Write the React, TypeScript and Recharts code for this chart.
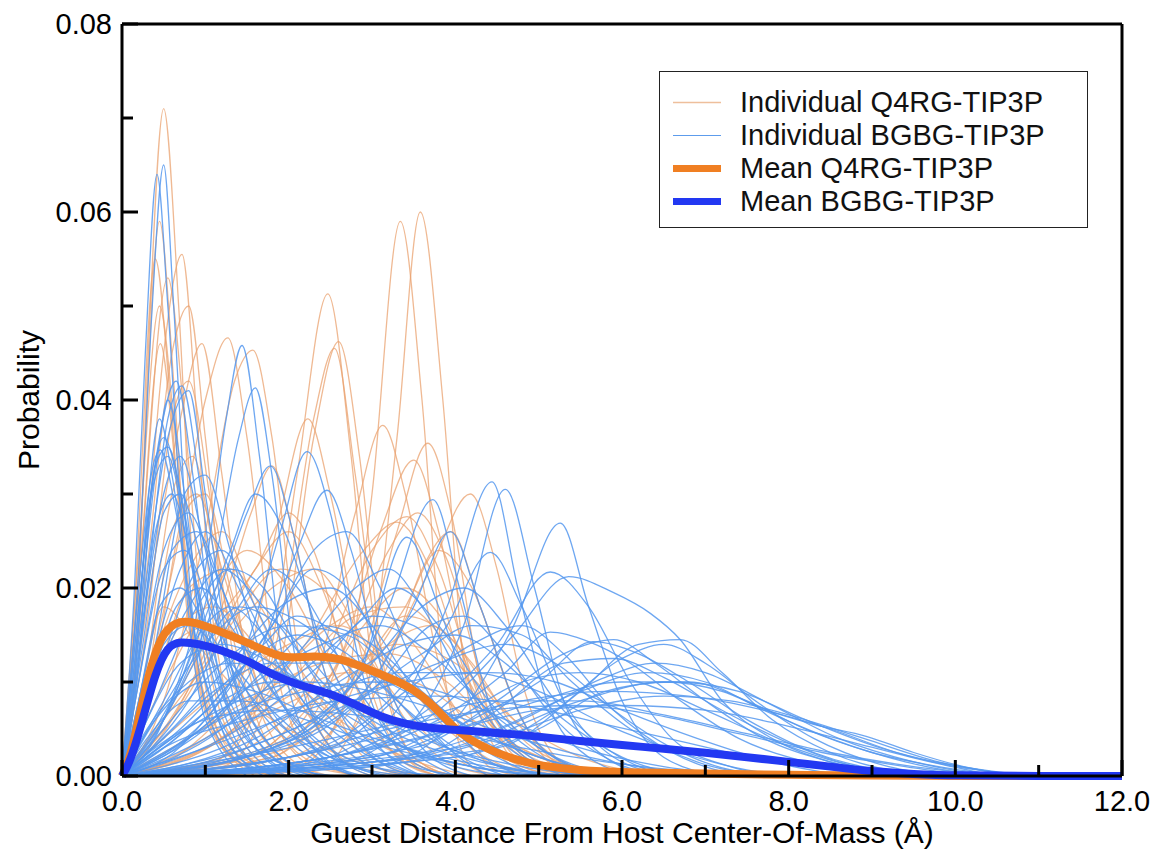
import React from "react";
import { LineChart, Line, XAxis, YAxis, Legend } from "recharts";

// each curve: [distance (Å), probability x 1000]
type Pt = [number, number];

const q4rgIndividual: Pt[][] = [
  [[0, 0], [0.15, 10], [0.3, 42], [0.5, 71], [0.68, 50], [0.85, 22], [1.1, 6], [1.5, 1], [2, 0]],
  [[0, 0], [0.2, 22], [0.45, 59], [0.62, 42], [0.8, 18], [1.1, 5], [1.6, 0]],
  [[0, 0], [0.15, 18], [0.4, 55], [0.58, 40], [0.8, 16], [1.2, 3], [1.8, 0]],
  [[0, 0], [0.25, 20], [0.5, 45], [0.72, 55.5], [0.9, 38], [1.1, 16], [1.5, 3], [2, 0]],
  [[0, 0], [0.2, 20], [0.55, 53], [0.75, 38], [1.0, 14], [1.4, 3], [2, 0]],
  [[0, 0], [0.2, 24], [0.45, 50], [0.65, 35], [0.9, 12], [1.3, 2], [2, 0]],
  [[0, 0], [0.3, 22], [0.6, 45], [0.8, 50], [1.0, 36], [1.3, 12], [1.8, 2], [2.4, 0]],
  [[0, 0], [0.3, 10], [0.7, 26], [1.0, 40], [1.27, 46.6], [1.5, 36], [1.8, 14], [2.2, 3], [2.8, 0]],
  [[0, 0], [0.5, 8], [1.0, 26], [1.35, 42], [1.57, 45.3], [1.8, 36], [2.1, 14], [2.5, 3], [3, 0]],
  [[0, 0], [1.0, 1], [1.7, 10], [2.1, 32], [2.47, 51.3], [2.75, 34], [3.0, 12], [3.4, 2], [3.8, 0]],
  [[0, 0], [1.2, 1], [1.9, 12], [2.3, 36], [2.6, 46.2], [2.85, 34], [3.1, 14], [3.5, 2], [4, 0]],
  [[0, 0], [1.2, 2], [1.9, 16], [2.3, 38], [2.55, 45.5], [2.8, 32], [3.1, 12], [3.5, 2], [4, 0]],
  [[0, 0], [2, 0.5], [2.6, 6], [3.0, 30], [3.34, 59], [3.6, 40], [3.85, 12], [4.2, 1], [4.6, 0]],
  [[0, 0], [2.3, 0.5], [2.9, 8], [3.3, 36], [3.58, 60], [3.85, 40], [4.1, 12], [4.4, 1], [4.8, 0]],
  [[0, 0], [0.8, 3], [1.5, 12], [1.9, 28], [2.23, 38], [2.5, 30], [2.9, 12], [3.4, 2], [4, 0]],
  [[0, 0], [1.5, 2], [2.3, 10], [2.8, 28], [3.13, 37.3], [3.4, 30], [3.8, 12], [4.3, 2], [5, 0]],
  [[0, 0], [2, 1], [2.8, 10], [3.3, 26], [3.67, 35.4], [3.95, 28], [4.3, 10], [4.8, 1], [5.3, 0]],
  [[0, 0], [1.8, 2], [2.6, 12], [3.1, 26], [3.5, 33.6], [3.8, 26], [4.2, 9], [4.7, 1], [5.2, 0]],
  [[0, 0], [1.5, 3], [2.4, 12], [3.0, 24], [3.42, 27.6], [3.8, 22], [4.3, 8], [4.9, 1], [5.5, 0]],
  [[0, 0], [1.2, 4], [2.2, 14], [2.9, 24], [3.3, 27], [3.7, 22], [4.2, 9], [4.8, 2], [5.5, 0]],
  [[0, 0], [1.8, 3], [2.7, 14], [3.2, 24], [3.55, 28], [3.9, 23], [4.4, 8], [5, 1], [5.5, 0]],
  [[0, 0], [2, 2], [3, 10], [3.7, 22], [4.18, 30], [4.5, 22], [4.8, 10], [5.2, 2], [5.6, 0]],
  [[0, 0], [0.2, 20], [0.46, 46], [0.65, 32], [0.9, 12], [1.3, 3], [2, 0]],
  [[0, 0], [0.3, 18], [0.7, 38], [0.96, 46], [1.2, 32], [1.5, 12], [2, 2], [2.5, 0]],
  [[0, 0], [0.3, 16], [0.6, 38], [0.8, 42], [1.05, 30], [1.4, 10], [1.9, 2], [2.4, 0]],
  [[0, 0], [0.5, 6], [1.2, 14], [1.8, 20], [2.3, 22], [2.8, 16], [3.4, 6], [4, 1], [4.6, 0]],
  [[0, 0], [0.4, 8], [1, 18], [1.5, 24], [2.0, 20], [2.6, 10], [3.2, 3], [4, 0]],
  [[0, 0], [0.3, 10], [0.8, 22], [1.2, 26], [1.6, 18], [2.2, 7], [2.8, 1], [3.5, 0]],
  [[0, 0], [1, 3], [2, 10], [2.8, 17], [3.4, 18], [3.9, 14], [4.5, 5], [5.2, 1], [6, 0]],
  [[0, 0], [0.6, 3], [1.5, 8], [2.4, 12], [3.2, 13], [3.9, 10], [4.6, 4], [5.4, 1], [6.2, 0]],
  [[0, 0], [0.3, 12], [0.6, 30], [0.85, 34], [1.1, 24], [1.5, 9], [2, 1], [2.5, 0]],
  [[0, 0], [0.5, 6], [1.1, 16], [1.6, 22], [2.0, 28], [2.3, 24], [2.7, 12], [3.2, 3], [3.8, 0]],
  [[0, 0], [0.2, 8], [0.5, 18], [0.9, 14], [1.5, 8], [2.2, 4], [3, 1], [3.8, 0]],
  [[0, 0], [0.8, 2], [1.6, 6], [2.5, 10], [3.3, 14], [4.0, 12], [4.7, 6], [5.5, 2], [6.5, 0]],
  [[0, 0], [0.4, 12], [0.75, 28], [1.0, 30], [1.3, 20], [1.8, 6], [2.4, 1], [3, 0]],
  [[0, 0], [0.6, 6], [1.2, 18], [1.55, 28], [1.8, 33], [2.05, 26], [2.4, 12], [2.9, 2], [3.4, 0]],
  [[0, 0], [0.5, 5], [1.1, 14], [1.6, 22], [2.0, 26], [2.4, 20], [2.8, 10], [3.3, 2], [3.8, 0]],
  [[0, 0], [0.3, 10], [0.6, 26], [0.9, 30], [1.2, 22], [1.7, 8], [2.3, 1], [3, 0]],
  [[0, 0], [1.5, 2], [2.3, 8], [2.9, 16], [3.4, 20], [3.9, 16], [4.4, 7], [5, 1], [5.6, 0]],
  [[0, 0], [1, 4], [1.8, 10], [2.5, 16], [3.0, 18], [3.5, 14], [4.1, 6], [4.8, 1], [5.4, 0]],
  [[0, 0], [0.5, 4], [1.3, 10], [2.0, 14], [2.6, 16], [3.2, 12], [3.9, 5], [4.6, 1], [5.2, 0]],
  [[0, 0], [2, 3], [2.8, 10], [3.4, 18], [3.8, 24], [4.2, 20], [4.7, 8], [5.2, 1], [5.8, 0]],
  [[0, 0], [0.4, 10], [0.8, 20], [1.3, 22], [1.8, 16], [2.4, 8], [3, 2], [3.6, 0]],
  [[0, 0], [1.8, 2], [2.6, 8], [3.2, 14], [3.7, 16], [4.2, 12], [4.8, 4], [5.4, 1], [6, 0]],
  [[0, 0], [0.2, 6], [0.6, 14], [1.1, 16], [1.8, 12], [2.6, 6], [3.4, 2], [4.2, 0]],
  [[0, 0], [1, 3], [1.9, 8], [2.7, 11], [3.5, 10], [4.2, 6], [5, 2], [5.8, 0]],
  [[0, 0], [2.5, 3], [3.2, 12], [3.6, 22], [3.95, 26], [4.3, 18], [4.8, 6], [5.3, 1], [5.8, 0]],
  [[0, 0], [0.6, 6], [1.3, 16], [1.9, 22], [2.4, 20], [3, 12], [3.7, 4], [4.4, 0]],
  [[0, 0], [0.3, 8], [0.7, 16], [1.1, 18], [1.6, 14], [2.3, 6], [3, 1], [3.6, 0]],
  [[0, 0], [2, 4], [2.9, 12], [3.4, 17], [3.9, 15], [4.5, 8], [5.2, 2], [5.9, 0]],
];

const bgbgIndividual: Pt[][] = [
  [[0, 0], [0.2, 22], [0.35, 48], [0.5, 65], [0.62, 50], [0.8, 22], [1.05, 6], [1.5, 1], [2, 0]],
  [[0, 0], [0.15, 20], [0.28, 45], [0.42, 64], [0.55, 50], [0.75, 22], [1.0, 6], [1.5, 0]],
  [[0, 0], [0.5, 6], [1.0, 22], [1.25, 38], [1.44, 45.8], [1.65, 34], [1.9, 14], [2.3, 3], [2.8, 0]],
  [[0, 0], [0.5, 6], [1.1, 22], [1.4, 36], [1.6, 41.3], [1.8, 32], [2.05, 14], [2.5, 3], [3, 0]],
  [[0, 0], [0.2, 18], [0.45, 36], [0.65, 42], [0.85, 32], [1.1, 14], [1.5, 3], [2, 0]],
  [[0, 0], [0.25, 18], [0.55, 36], [0.8, 41], [1.0, 30], [1.3, 12], [1.8, 2], [2.3, 0]],
  [[0, 0], [0.2, 16], [0.4, 32], [0.55, 40], [0.75, 30], [1.0, 12], [1.4, 2], [1.9, 0]],
  [[0, 0], [0.3, 20], [0.55, 38], [0.72, 41.5], [0.92, 32], [1.2, 14], [1.6, 3], [2.1, 0]],
  [[0, 0], [0.2, 20], [0.35, 32], [0.46, 34.7], [0.65, 28], [0.9, 14], [1.3, 4], [1.9, 0]],
  [[0, 0], [0.2, 18], [0.4, 33], [0.55, 35], [0.75, 28], [1.0, 15], [1.4, 5], [2, 1], [2.6, 0]],
  [[0, 0], [0.25, 16], [0.5, 30], [0.7, 34], [0.95, 26], [1.3, 12], [1.8, 3], [2.4, 0]],
  [[0, 0], [0.5, 6], [1.1, 18], [1.5, 28], [1.78, 33], [2.05, 26], [2.4, 12], [2.9, 3], [3.5, 0]],
  [[0, 0], [0.8, 4], [1.5, 14], [1.9, 26], [2.22, 34.5], [2.5, 28], [2.85, 12], [3.3, 3], [3.9, 0]],
  [[0, 0], [0.8, 4], [1.6, 12], [2.1, 24], [2.46, 30.4], [2.75, 24], [3.1, 12], [3.6, 3], [4.2, 0]],
  [[0, 0], [1.5, 2], [2.6, 8], [3.2, 18], [3.73, 29.4], [4.05, 20], [4.4, 8], [4.9, 2], [5.5, 0]],
  [[0, 0], [2, 1], [3.2, 6], [3.9, 18], [4.44, 31.3], [4.75, 20], [5.1, 8], [5.6, 2], [6.2, 0]],
  [[0, 0], [2.4, 1], [3.5, 6], [4.1, 16], [4.6, 30.5], [4.95, 20], [5.3, 8], [5.8, 2], [6.4, 0]],
  [[0, 0], [3, 1], [4, 6], [4.7, 16], [5.26, 26.9], [5.6, 18], [6.0, 8], [6.5, 2], [7.2, 0]],
  [[0, 0], [2.5, 2], [3.8, 7], [4.7, 15], [5.36, 21.2], [5.9, 19.5], [6.34, 17.3], [6.7, 14.5], [7.2, 8], [7.8, 4], [8.5, 1.5], [9.3, 0]],
  [[0, 0], [2.5, 2], [3.5, 6], [4.5, 14], [5.14, 21.7], [5.6, 18], [6.1, 10], [6.6, 4], [7.3, 1], [8, 0]],
  [[0, 0], [1.5, 3], [2.8, 10], [3.42, 25.4], [3.8, 18], [4.2, 8], [4.8, 2], [5.5, 0]],
  [[0, 0], [1.8, 3], [3.0, 10], [3.5, 18], [3.94, 26], [4.3, 18], [4.8, 6], [5.4, 1], [6, 0]],
  [[0, 0], [2, 2], [3.2, 8], [3.9, 16], [4.42, 23.8], [4.8, 18], [5.3, 8], [5.9, 2], [6.6, 0]],
  [[0, 0], [2.5, 2], [3.8, 6], [4.6, 11], [5.14, 15.3], [5.6, 14.3], [6.1, 12], [6.7, 8], [7.4, 4], [8.2, 1.5], [9, 0]],
  [[0, 0], [3, 2], [4.2, 6], [5, 10], [5.65, 14.3], [6.2, 13], [6.8, 10], [7.5, 6], [8.3, 2.5], [9.2, 0.5], [10, 0]],
  [[0, 0], [2.5, 2], [4, 5], [5, 8], [6, 10], [6.8, 10], [7.5, 8], [8.2, 5], [9, 2.5], [9.8, 1], [10.6, 0]],
  [[0, 0], [3, 1.5], [4.5, 5], [5.5, 9], [6.3, 11], [7, 10], [7.7, 7], [8.5, 4], [9.4, 1.5], [10.3, 0]],
  [[0, 0], [2, 2], [3.5, 5], [4.8, 8], [5.8, 9], [6.8, 8.5], [7.7, 7], [8.5, 5], [9.3, 2.5], [10.2, 0.8], [11, 0]],
  [[0, 0], [3, 1], [4.5, 4], [5.5, 7], [6.5, 8.5], [7.3, 8], [8, 6.5], [8.9, 4], [9.8, 1.5], [10.8, 0]],
  [[0, 0], [2.5, 2], [4, 5], [5, 7], [6, 7.5], [7, 7], [7.9, 5.5], [8.8, 3.5], [9.7, 1.5], [10.5, 0]],
  [[0, 0], [3.5, 2], [4.8, 6], [5.8, 10.5], [6.4, 12], [7, 11], [7.7, 8], [8.6, 4], [9.5, 1.5], [10.4, 0]],
  [[0, 0], [4, 2], [5.2, 7], [6, 12.5], [6.5, 14], [7, 12], [7.6, 8], [8.3, 4], [9.2, 1], [10, 0]],
  [[0, 0], [4, 2], [5, 5], [5.8, 9], [6.6, 10], [7.4, 9], [8.2, 6], [9.1, 3], [10, 1], [11, 0]],
  [[0, 0], [2, 3], [3.5, 6], [4.5, 8], [5.5, 8], [6.5, 6.5], [7.5, 4.5], [8.5, 2.5], [9.5, 1], [10.5, 0]],
  [[0, 0], [4, 3], [5.5, 8], [6.5, 10], [7.2, 9], [7.74, 7], [8.3, 5.5], [8.94, 4.2], [9.5, 2.5], [10.1, 1], [10.8, 0]],
  [[0, 0], [4.5, 3], [5.5, 9], [6.2, 14], [6.7, 14.5], [7.2, 11], [7.8, 6], [8.5, 2.5], [9.3, 0.5], [10, 0]],
  [[0, 0], [3.5, 3], [4.5, 8], [5.3, 13], [5.9, 14.5], [6.4, 12], [7, 8], [7.7, 4], [8.5, 1.5], [9.3, 0]],
  [[0, 0], [0.2, 10], [0.5, 24], [0.8, 28], [1.1, 22], [1.6, 12], [2.2, 5], [3, 1], [4, 0]],
  [[0, 0], [0.3, 10], [0.7, 22], [1.0, 26], [1.4, 20], [2, 10], [2.8, 3], [3.6, 0]],
  [[0, 0], [0.3, 8], [0.8, 18], [1.2, 22], [1.7, 18], [2.4, 10], [3.2, 4], [4.2, 1], [5, 0]],
  [[0, 0], [0.4, 6], [1.0, 14], [1.6, 18], [2.2, 16], [2.9, 10], [3.7, 4], [4.6, 1], [5.5, 0]],
  [[0, 0], [0.5, 5], [1.2, 12], [2.0, 16], [2.7, 15], [3.4, 10], [4.2, 5], [5, 2], [6, 0]],
  [[0, 0], [0.2, 12], [0.4, 26], [0.6, 30], [0.85, 22], [1.2, 10], [1.7, 3], [2.3, 0]],
  [[0, 0], [0.3, 12], [0.6, 24], [0.9, 26], [1.2, 20], [1.6, 10], [2.2, 3], [2.9, 0]],
  [[0, 0], [0.4, 8], [0.9, 18], [1.3, 22], [1.7, 20], [2.2, 12], [2.8, 5], [3.5, 1], [4.2, 0]],
  [[0, 0], [0.6, 5], [1.3, 12], [1.9, 18], [2.5, 20], [3.0, 16], [3.6, 8], [4.3, 3], [5, 0]],
  [[0, 0], [0.8, 4], [1.6, 10], [2.4, 14], [3.1, 16], [3.7, 13], [4.4, 7], [5.2, 2], [6, 0]],
  [[0, 0], [1, 4], [2, 10], [2.8, 16], [3.3, 20], [3.8, 16], [4.4, 8], [5, 3], [5.8, 0]],
  [[0, 0], [0.2, 8], [0.45, 18], [0.7, 20], [1.0, 16], [1.5, 9], [2.1, 4], [2.8, 1], [3.5, 0]],
  [[0, 0], [0.5, 4], [1.1, 9], [1.8, 12], [2.6, 12], [3.4, 9], [4.2, 5], [5, 2], [6, 0]],
  [[0, 0], [0.6, 3], [1.4, 7], [2.2, 9], [3.0, 10], [3.8, 9], [4.6, 6], [5.5, 3], [6.5, 1], [7.5, 0]],
  [[0, 0], [0.3, 6], [0.7, 12], [1.2, 14], [1.8, 12], [2.6, 7], [3.4, 3], [4.2, 1], [5, 0]],
  [[0, 0], [0.9, 6], [1.8, 16], [2.3, 24], [2.7, 26], [3.1, 20], [3.6, 10], [4.2, 3], [4.8, 0]],
  [[0, 0], [1.2, 5], [2.2, 14], [2.8, 20], [3.2, 22], [3.6, 18], [4.1, 10], [4.7, 3], [5.3, 0]],
  [[0, 0], [0.4, 14], [0.75, 30], [1.0, 32], [1.3, 24], [1.7, 12], [2.2, 4], [2.8, 0]],
  [[0, 0], [0.7, 10], [1.3, 24], [1.6, 30], [1.95, 26], [2.4, 14], [3, 4], [3.6, 0]],
  [[0, 0], [1, 6], [1.8, 16], [2.3, 22], [2.7, 20], [3.2, 12], [3.8, 4], [4.4, 0]],
  [[0, 0], [0.15, 10], [0.3, 28], [0.45, 38], [0.6, 32], [0.85, 16], [1.2, 5], [1.7, 0]],
  [[0, 0], [0.2, 12], [0.35, 30], [0.5, 36], [0.7, 30], [0.95, 16], [1.3, 5], [1.8, 0]],
  [[0, 0], [1.5, 3], [2.8, 8], [3.8, 12], [4.6, 14], [5.2, 12], [5.9, 7], [6.6, 3], [7.4, 0.5], [8.2, 0]],
  [[0, 0], [1, 3], [2.2, 7], [3.4, 10], [4.4, 11], [5.2, 10], [6, 7], [6.9, 4], [7.8, 1.5], [8.7, 0]],
  [[0, 0], [0.5, 3], [1.5, 6], [2.6, 8], [3.8, 8.5], [4.8, 7.5], [5.8, 5.5], [6.8, 3.5], [7.8, 1.5], [8.8, 0.5], [9.6, 0]],
  [[0, 0], [0.4, 6], [1, 10], [1.6, 9], [2.4, 6], [3.4, 3], [4.4, 1], [5.4, 0]],
  [[0, 0], [0.3, 4], [0.8, 8], [1.4, 8], [2.2, 6], [3.2, 3], [4.2, 1], [5.2, 0]],
  [[0, 0], [2.0, 4], [3.0, 12], [3.6, 18], [4.1, 20], [4.6, 16], [5.2, 8], [5.8, 3], [6.5, 0]],
  [[0, 0], [0.15, 12], [0.35, 30], [0.55, 34], [0.8, 24], [1.1, 12], [1.6, 3], [2.2, 0]],
  [[0, 0], [0.2, 10], [0.5, 22], [0.75, 24], [1.05, 18], [1.5, 9], [2.1, 3], [2.8, 0]],
  [[0, 0], [0.5, 6], [1.0, 14], [1.4, 18], [1.9, 16], [2.5, 10], [3.2, 4], [4, 1], [4.8, 0]],
  [[0, 0], [0.3, 5], [0.8, 10], [1.3, 12], [1.9, 11], [2.6, 8], [3.4, 4], [4.3, 1.5], [5.2, 0]],
  [[0, 0], [0.6, 4], [1.4, 8], [2.2, 10], [3.0, 9], [3.8, 7], [4.6, 4.5], [5.6, 2], [6.6, 0.5], [7.5, 0]],
  [[0, 0], [1, 5], [1.8, 12], [2.4, 16], [3.0, 14], [3.6, 9], [4.3, 4], [5, 1], [5.8, 0]],
  [[0, 0], [1.4, 5], [2.4, 12], [3.0, 17], [3.5, 16], [4.0, 11], [4.6, 5], [5.3, 1], [6, 0]],
  [[0, 0], [0.2, 6], [0.5, 14], [0.8, 16], [1.2, 13], [1.8, 7], [2.5, 2], [3.2, 0]],
  [[0, 0], [0.8, 8], [1.4, 18], [1.8, 22], [2.2, 19], [2.7, 11], [3.3, 4], [4, 0]],
  [[0, 0], [1.6, 4], [2.6, 10], [3.4, 14], [4.0, 15], [4.6, 12], [5.3, 6], [6, 2], [6.8, 0]],
  [[0, 0], [0.4, 3], [1.0, 6], [1.8, 7], [2.8, 6.5], [3.8, 5], [4.8, 3], [5.8, 1.5], [6.8, 0.5], [7.8, 0]],
  [[0, 0], [0.5, 8], [1.0, 16], [1.3, 18], [1.7, 15], [2.2, 9], [2.9, 3], [3.6, 0]],
  [[0, 0], [2.5, 3], [3.4, 9], [4.2, 14], [4.8, 16], [5.3, 13], [5.9, 7], [6.6, 2.5], [7.4, 0]],
  [[0, 0], [3, 2], [4, 6], [4.8, 10], [5.5, 11], [6.2, 10], [7, 7], [7.9, 3.5], [8.8, 1], [9.6, 0]],
  [[0, 0], [2, 2], [3.2, 5], [4.4, 7], [5.4, 7.5], [6.4, 6.5], [7.4, 4.5], [8.4, 2.5], [9.4, 1], [10.2, 0]],
  [[0, 0], [0.3, 8], [0.65, 18], [0.95, 20], [1.3, 16], [1.8, 9], [2.4, 3], [3.1, 0]],
  [[0, 0], [0.7, 5], [1.5, 12], [2.1, 15], [2.7, 13], [3.3, 8], [4, 3], [4.8, 0.5], [5.5, 0]],
  [[0, 0], [1.2, 3], [2.3, 8], [3.3, 11], [4.2, 11], [5, 9], [5.8, 5.5], [6.7, 2.5], [7.6, 0.5], [8.4, 0]],
  [[0, 0], [0.25, 14], [0.5, 28], [0.7, 30], [0.95, 23], [1.3, 11], [1.8, 3], [2.4, 0]],
  [[0, 0], [0.4, 10], [0.9, 22], [1.2, 24], [1.6, 18], [2.1, 9], [2.8, 2], [3.5, 0]],
  [[0, 0], [3.5, 2], [4.5, 7], [5.3, 12], [5.9, 12.5], [6.5, 10.5], [7.2, 7], [8, 3.5], [8.8, 1], [9.6, 0]],
  [[0, 0], [1.8, 3], [2.8, 8], [3.6, 13], [4.2, 16], [4.8, 15], [5.4, 10], [6.1, 5], [6.9, 1.5], [7.7, 0]],
  [[0, 0], [0.6, 4], [1.2, 8], [1.8, 10], [2.4, 9], [3.1, 6], [3.9, 3], [4.8, 1], [5.7, 0]],
  [[0, 0], [0.9, 6], [1.7, 14], [2.1, 17], [2.6, 15], [3.2, 9], [3.9, 3], [4.6, 0]],
  [[0, 0], [2.2, 4], [3.1, 10], [3.7, 16], [4.1, 17], [4.6, 13], [5.2, 6], [5.9, 1.5], [6.6, 0]],
];

const q4rgMean: Pt[] = [
  [0, 0], [0.1, 2], [0.2, 6], [0.35, 12], [0.5, 15.5], [0.7, 16.6], [0.9, 16.3], [1.2, 15.3],
  [1.5, 14.2], [1.8, 13], [2.0, 12.5], [2.3, 12.8], [2.6, 12.6], [3.0, 11.2], [3.3, 10.1],
  [3.5, 9.2], [3.7, 7.8], [3.9, 5.9], [4.1, 4.2], [4.4, 2.8], [4.7, 1.8], [5.0, 1.1], [5.5, 0.6],
  [6.0, 0.4], [7, 0.25], [8, 0.12], [9, 0.04], [10, 0], [12, 0],
];

const bgbgMean: Pt[] = [
  [0, 0], [0.1, 1.5], [0.25, 6], [0.4, 11], [0.55, 13.9], [0.7, 14.3], [0.9, 14.1], [1.2, 13.4],
  [1.5, 12.3], [1.8, 10.8], [2.1, 9.7], [2.5, 8.8], [2.8, 7.6], [3.1, 6.3], [3.4, 5.5], [3.7, 5.1],
  [4.0, 4.9], [4.5, 4.6], [5.0, 4.2], [5.5, 3.7], [6.0, 3.3], [6.5, 2.9], [7.0, 2.5], [7.5, 2.0],
  [8.0, 1.5], [8.5, 1.0], [9.0, 0.5], [9.5, 0.2], [10, 0.05], [11, 0], [12, 0],
];

const xTicks = [0, 1, 2, 3, 4, 5, 6, 7, 8, 9, 10, 11, 12];
const yTicks = [0, 0.01, 0.02, 0.03, 0.04, 0.05, 0.06, 0.07, 0.08];

const legendItems = [
  { label: "Individual Q4RG-TIP3P", color: "#eebf9c", width: 1.5 },
  { label: "Individual BGBG-TIP3P", color: "#5d9cec", width: 1.2 },
  { label: "Mean Q4RG-TIP3P", color: "#f07f22", width: 7 },
  { label: "Mean BGBG-TIP3P", color: "#2238f2", width: 7 },
];

const FONT = '"Liberation Sans", Arial, Helvetica, sans-serif';
const toRows = (pts: Pt[]) => pts.map(([x, y]) => ({ x, y: y / 1000 }));

const isMajorX = (v: number) => v % 2 === 0;
const isMajorY = (v: number) => Math.round(v * 100) % 2 === 0;

function BottomTick({ x, y, payload }: any) {
  const v = payload.value;
  const major = isMajorX(v);
  return (
    <g>
      <line x1={x} x2={x} y1={y} y2={y - (major ? 16 : 11)} stroke="#000" strokeWidth={3} />
      {major && (
        <text x={x} y={y + 35} textAnchor="middle" fontSize={29} fontFamily={FONT} fill="#000">
          {v.toFixed(1)}
        </text>
      )}
    </g>
  );
}

function TopTick({ x, y, payload }: any) {
  const major = isMajorX(payload.value);
  return <line x1={x} x2={x} y1={y} y2={y + (major ? 16 : 11)} stroke="#000" strokeWidth={3} />;
}

function LeftTick({ x, y, payload }: any) {
  const v = payload.value;
  const major = isMajorY(v);
  return (
    <g>
      <line x1={x} x2={x + (major ? 16 : 11)} y1={y} y2={y} stroke="#000" strokeWidth={3} />
      {major && (
        <text x={x - 10} y={y + 10} textAnchor="end" fontSize={29} fontFamily={FONT} fill="#000">
          {v.toFixed(2)}
        </text>
      )}
    </g>
  );
}

function RightTick({ x, y, payload }: any) {
  const major = isMajorY(payload.value);
  return <line x1={x} x2={x - (major ? 16 : 11)} y1={y} y2={y} stroke="#000" strokeWidth={3} />;
}

function LegendBox() {
  return (
    <div
      style={{
        width: 429,
        height: 157,
        boxSizing: "border-box",
        border: "1.5px solid #222",
        background: "#fff",
        padding: "14px 0 0 12px",
        fontFamily: FONT,
        fontSize: 29,
        color: "#111",
      }}
    >
      {legendItems.map((item) => (
        <div key={item.label} style={{ display: "flex", alignItems: "center", height: 33, whiteSpace: "nowrap" }}>
          <svg width={50} height={33} style={{ marginRight: 18, flex: "none" }}>
            <line x1={1} x2={49} y1={16.5} y2={16.5} stroke={item.color} strokeWidth={item.width} />
          </svg>
          <span>{item.label}</span>
        </div>
      ))}
    </div>
  );
}

export default function App() {
  return (
    <div style={{ position: "absolute", left: 0, top: 0, background: "#fff" }}>
      <LineChart width={1157} height={857} margin={{ top: 14, right: 25, bottom: 21, left: 22 }}>
        <XAxis
          dataKey="x"
          type="number"
          domain={[0, 12]}
          ticks={xTicks}
          interval={0}
          height={60}
          tickSize={0}
          tickMargin={0}
          tickLine={false}
          axisLine={{ stroke: "#000", strokeWidth: 3 }}
          tick={BottomTick}
          label={{
            content: ({ viewBox }: any) => (
              <text
                x={viewBox.x + viewBox.width / 2}
                y={viewBox.y + 67}
                textAnchor="middle"
                fontSize={30}
                fontFamily={FONT}
                fill="#000"
              >
                Guest Distance From Host Center-Of-Mass (Å)
              </text>
            ),
          }}
        />
        <XAxis
          xAxisId="top"
          orientation="top"
          dataKey="x"
          type="number"
          domain={[0, 12]}
          ticks={xTicks}
          interval={0}
          height={10}
          tickSize={0}
          tickMargin={0}
          tickLine={false}
          axisLine={{ stroke: "#000", strokeWidth: 3 }}
          tick={TopTick}
        />
        <YAxis
          type="number"
          domain={[0, 0.08]}
          ticks={yTicks}
          interval={0}
          width={100}
          tickSize={0}
          tickMargin={0}
          tickLine={false}
          axisLine={{ stroke: "#000", strokeWidth: 3 }}
          tick={LeftTick}
          label={{
            content: ({ viewBox }: any) => {
              const cx = viewBox.x + 6;
              const cy = viewBox.y + viewBox.height / 2;
              return (
                <text
                  x={cx}
                  y={cy}
                  transform={`rotate(-90, ${cx}, ${cy})`}
                  textAnchor="middle"
                  dominantBaseline="central"
                  fontSize={30}
                  fontFamily={FONT}
                  fill="#000"
                >
                  Probability
                </text>
              );
            },
          }}
        />
        <YAxis
          yAxisId="right"
          orientation="right"
          type="number"
          domain={[0, 0.08]}
          ticks={yTicks}
          interval={0}
          width={10}
          tickSize={0}
          tickMargin={0}
          tickLine={false}
          axisLine={{ stroke: "#000", strokeWidth: 3 }}
          tick={RightTick}
        />
        <Legend
          layout="vertical"
          align="center"
          verticalAlign="middle"
          wrapperStyle={{ left: 659, top: 71, width: 429, height: 157 }}
          content={() => <LegendBox />}
        />
        {q4rgIndividual.map((c, i) => (
          <Line
            key={`q${i}`}
            data={toRows(c)}
            dataKey="y"
            type="monotone"
            stroke="#e9a26f"
            strokeOpacity={0.75}
            strokeWidth={1.3}
            dot={false}
            activeDot={false}
            legendType="none"
            isAnimationActive={false}
          />
        ))}
        {bgbgIndividual.map((c, i) => (
          <Line
            key={`b${i}`}
            data={toRows(c)}
            dataKey="y"
            type="monotone"
            stroke="#5598ee"
            strokeOpacity={0.85}
            strokeWidth={1.3}
            dot={false}
            activeDot={false}
            legendType="none"
            isAnimationActive={false}
          />
        ))}
        <Line
          data={toRows(q4rgMean)}
          dataKey="y"
          type="basis"
          stroke="#f07f22"
          strokeWidth={8}
          dot={false}
          activeDot={false}
          legendType="none"
          isAnimationActive={false}
        />
        <Line
          data={toRows(bgbgMean)}
          dataKey="y"
          type="basis"
          stroke="#2238f2"
          strokeWidth={8}
          dot={false}
          activeDot={false}
          legendType="none"
          isAnimationActive={false}
        />
      </LineChart>
    </div>
  );
}
